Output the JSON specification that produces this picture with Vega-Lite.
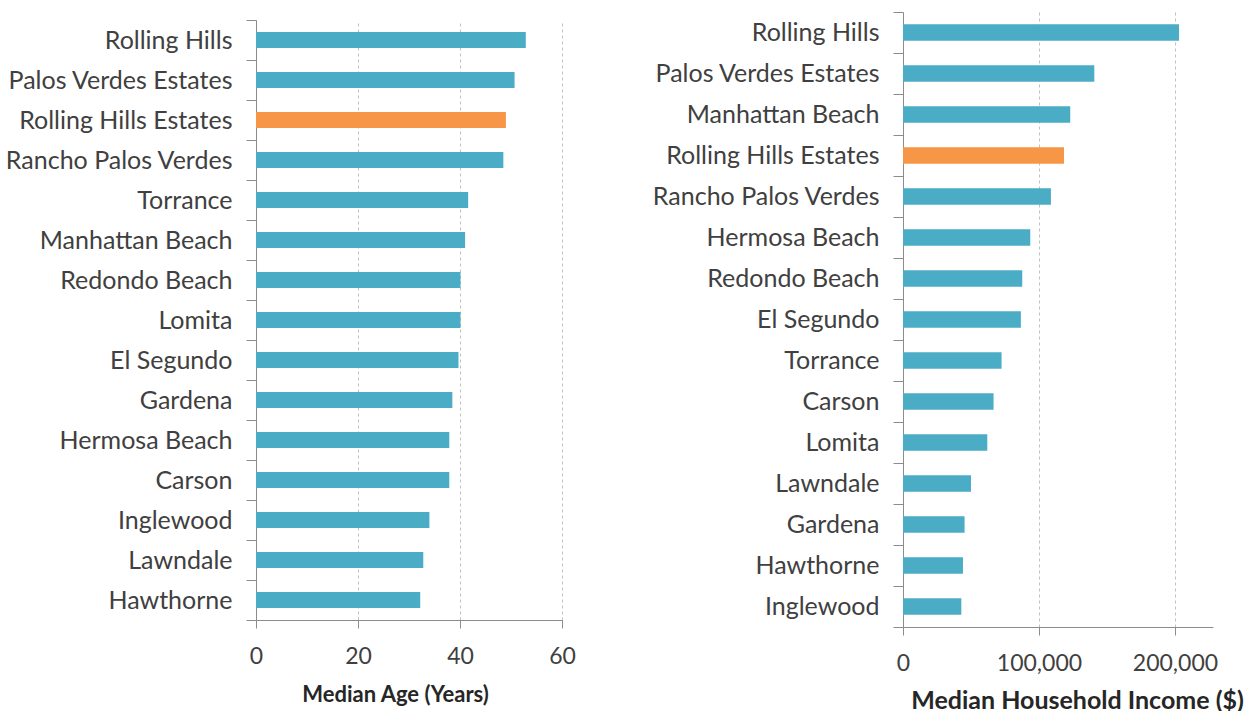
{
  "$schema": "https://vega.github.io/schema/vega-lite/v6.json",
  "padding": {"top": 0, "left": 4, "right": 5, "bottom": 0},
  "background": "white",
  "center": true,
  "datasets": {
    "age": [
      {"city": "Rolling Hills", "age": 52.9},
      {"city": "Palos Verdes Estates", "age": 50.7},
      {"city": "Rolling Hills Estates", "age": 49.0},
      {"city": "Rancho Palos Verdes", "age": 48.5},
      {"city": "Torrance", "age": 41.6},
      {"city": "Manhattan Beach", "age": 41.0},
      {"city": "Redondo Beach", "age": 40.1},
      {"city": "Lomita", "age": 40.1},
      {"city": "El Segundo", "age": 39.7},
      {"city": "Gardena", "age": 38.5},
      {"city": "Hermosa Beach", "age": 37.9},
      {"city": "Carson", "age": 37.9},
      {"city": "Inglewood", "age": 34.0},
      {"city": "Lawndale", "age": 32.8},
      {"city": "Hawthorne", "age": 32.2}
    ],
    "income": [
      {"city": "Rolling Hills", "income": 203000},
      {"city": "Palos Verdes Estates", "income": 140700},
      {"city": "Manhattan Beach", "income": 123000},
      {"city": "Rolling Hills Estates", "income": 118400},
      {"city": "Rancho Palos Verdes", "income": 108800},
      {"city": "Hermosa Beach", "income": 93600},
      {"city": "Redondo Beach", "income": 87700},
      {"city": "El Segundo", "income": 86700},
      {"city": "Torrance", "income": 72500},
      {"city": "Carson", "income": 66600},
      {"city": "Lomita", "income": 62000},
      {"city": "Lawndale", "income": 50000},
      {"city": "Gardena", "income": 45300},
      {"city": "Hawthorne", "income": 44100},
      {"city": "Inglewood", "income": 42900}
    ]
  },
  "spacing": 75,
  "config": {
    "view": {"stroke": null},
    "axis": {
      "labelFont": "Lato",
      "titleFont": "Lato",
      "labelColor": "#404040",
      "titleColor": "#262626",
      "domainColor": "#8c8c8c",
      "tickColor": "#8c8c8c",
      "gridColor": "#c0c0c0",
      "gridDash": [3, 3]
    }
  },
  "hconcat": [
    {
      "width": 306,
      "height": 600,
      "data": {"name": "age"},
      "mark": {"type": "bar", "height": {"band": 0.4}},
      "encoding": {
        "y": {
          "field": "city", "type": "nominal", "sort": null,
          "scale": {"paddingInner": 0, "paddingOuter": 0},
          "axis": {"title": null, "tickBand": "extent", "tickSize": 10, "labelPadding": 14, "labelFontSize": 25, "labelLimit": 400, "grid": false}
        },
        "x": {
          "field": "age", "type": "quantitative",
          "scale": {"domain": [0, 60], "nice": false},
          "axis": {"title": "Median Age (Years)", "values": [0, 20, 40, 60], "labelFlush": false, "tickSize": 8, "labelPadding": 17, "labelFontSize": 23, "titleFontSize": 22, "titleFontWeight": "bold", "titlePadding": 16, "titleX": 139, "grid": true}
        },
        "color": {
          "condition": {"test": "datum.city === 'Rolling Hills Estates'", "value": "#F79646"},
          "value": "#4BACC6"
        }
      }
    },
    {
      "width": 310,
      "height": 615,
      "data": {"name": "income"},
      "mark": {"type": "bar", "height": {"band": 0.4}},
      "encoding": {
        "y": {
          "field": "city", "type": "nominal", "sort": null,
          "scale": {"paddingInner": 0, "paddingOuter": 0},
          "axis": {"title": null, "tickBand": "extent", "tickSize": 10, "labelPadding": 14, "labelFontSize": 25, "labelLimit": 400, "grid": false}
        },
        "x": {
          "field": "income", "type": "quantitative",
          "scale": {"domain": [0, 228000], "nice": false},
          "axis": {"title": "Median Household Income ($)", "values": [0, 100000, 200000], "format": ",.0f", "labelFlush": false, "tickSize": 8, "labelPadding": 17, "labelFontSize": 23, "titleFontSize": 25, "titleFontWeight": "bold", "titlePadding": 13, "titleX": 174, "grid": true}
        },
        "color": {
          "condition": {"test": "datum.city === 'Rolling Hills Estates'", "value": "#F79646"},
          "value": "#4BACC6"
        }
      }
    }
  ]
}
